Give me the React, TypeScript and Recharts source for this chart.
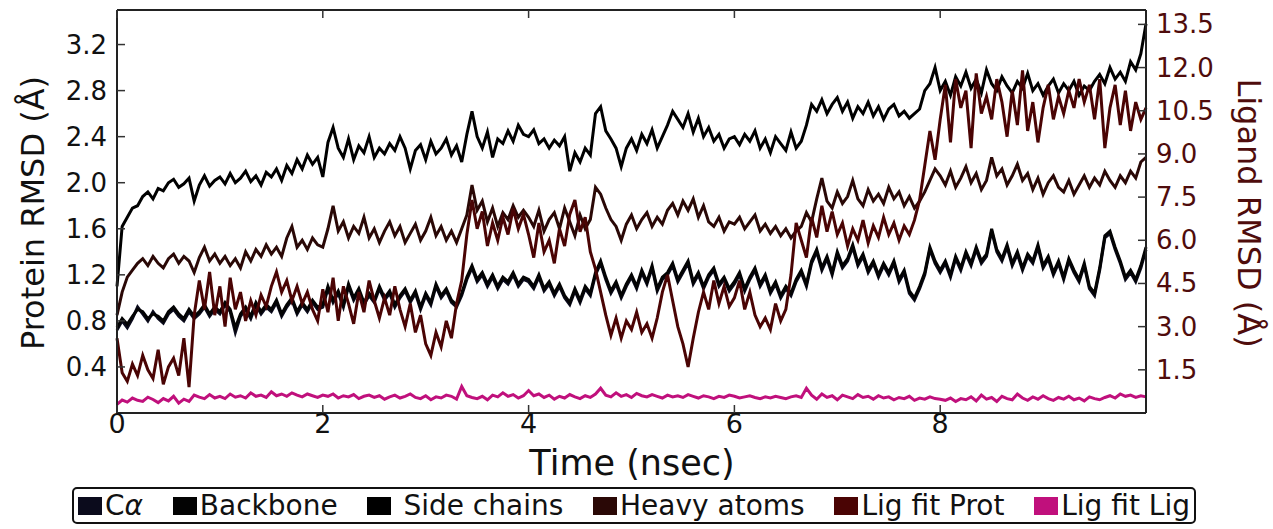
import { LineChart, Line, XAxis, YAxis, ReferenceLine } from "recharts"

// time axis (ns), one frame every 0.05 ns
const TIME = Array.from({ length: 201 }, (_, i) => +(i * 0.05).toFixed(2))

const X_TICKS = [0, 2, 4, 6, 8]
const PROTEIN_TICKS = [0.4, 0.8, 1.2, 1.6, 2.0, 2.4, 2.8, 3.2]
const LIGAND_TICKS = [1.5, 3.0, 4.5, 6.0, 7.5, 9.0, 10.5, 12.0, 13.5]

// protein RMSD (left axis, Å)
const CA = [
  0.72, 0.80, 0.74, 0.82, 0.92, 0.86, 0.80, 0.88, 0.82, 0.78, 0.86, 0.90, 0.84, 0.80, 0.88, 0.82, 0.86, 0.92, 0.84, 0.90,
  0.86, 0.94, 0.88, 0.70, 0.84, 0.90, 0.82, 0.94, 0.86, 0.92, 0.88, 0.96, 0.84, 0.92, 0.98, 0.86, 0.94, 0.88, 0.96, 0.90,
  0.92, 1.08, 0.96, 1.04, 0.92, 1.10, 0.98, 1.06, 0.94, 1.02, 0.96, 1.08, 0.98, 1.04, 0.92, 1.00, 1.06, 0.96, 1.04, 0.90,
  1.02, 0.94, 1.10, 1.00, 1.06, 0.96, 0.92, 1.02, 1.16, 1.26, 1.14, 1.20, 1.10, 1.18, 1.08, 1.16, 1.12, 1.20, 1.10, 1.16,
  1.14, 1.08, 1.18, 1.06, 1.12, 1.02, 1.10, 1.00, 0.94, 1.06, 0.96, 1.08, 1.02, 1.20, 1.30, 1.16, 1.04, 1.12, 1.00, 1.10,
  1.18, 1.08, 1.22, 1.12, 1.26, 1.06, 1.16, 1.20, 1.28, 1.14, 1.22, 1.30, 1.12, 1.20, 1.08, 1.18, 1.24, 1.10, 1.16, 1.06,
  1.12, 1.20, 1.06, 1.16, 1.24, 1.10, 1.18, 1.04, 1.12, 1.00, 1.08, 1.02, 1.14, 1.22, 1.10, 1.30, 1.40, 1.24, 1.34, 1.20,
  1.38, 1.26, 1.32, 1.44, 1.28, 1.36, 1.22, 1.30, 1.18, 1.28, 1.20, 1.30, 1.14, 1.22, 1.04, 0.98, 1.08, 1.20, 1.42, 1.30,
  1.22, 1.30, 1.18, 1.34, 1.24, 1.38, 1.28, 1.42, 1.30, 1.36, 1.58, 1.40, 1.32, 1.44, 1.28, 1.38, 1.24, 1.36, 1.30, 1.44,
  1.26, 1.34, 1.20, 1.30, 1.16, 1.32, 1.22, 1.14, 1.28, 1.08, 1.02, 1.24, 1.52, 1.56, 1.42, 1.30, 1.16, 1.22, 1.14, 1.26,
  1.42,
]

const BACKBONE = [
  0.74, 0.82, 0.77, 0.84, 0.90, 0.88, 0.82, 0.86, 0.84, 0.80, 0.88, 0.92, 0.86, 0.82, 0.90, 0.84, 0.88, 0.94, 0.86, 0.92,
  0.88, 0.96, 0.90, 0.74, 0.86, 0.92, 0.84, 0.96, 0.88, 0.94, 0.90, 0.98, 0.86, 0.94, 1.00, 0.88, 0.96, 0.90, 0.98, 0.92,
  0.94, 1.10, 0.98, 1.06, 0.94, 1.12, 1.00, 1.08, 0.96, 1.04, 0.98, 1.10, 1.00, 1.06, 0.94, 1.02, 1.08, 0.98, 1.06, 0.92,
  1.04, 0.96, 1.12, 1.02, 1.08, 0.98, 0.94, 1.04, 1.18, 1.28, 1.16, 1.22, 1.12, 1.20, 1.10, 1.18, 1.14, 1.22, 1.12, 1.18,
  1.16, 1.10, 1.20, 1.08, 1.14, 1.04, 1.12, 1.02, 0.96, 1.08, 0.98, 1.10, 1.04, 1.22, 1.32, 1.18, 1.06, 1.14, 1.02, 1.12,
  1.20, 1.10, 1.24, 1.14, 1.28, 1.08, 1.18, 1.22, 1.30, 1.16, 1.24, 1.32, 1.14, 1.22, 1.10, 1.20, 1.26, 1.12, 1.18, 1.08,
  1.14, 1.22, 1.08, 1.18, 1.26, 1.12, 1.20, 1.06, 1.14, 1.02, 1.10, 1.04, 1.16, 1.24, 1.12, 1.32, 1.42, 1.26, 1.36, 1.22,
  1.40, 1.28, 1.34, 1.46, 1.30, 1.38, 1.24, 1.32, 1.20, 1.30, 1.22, 1.32, 1.16, 1.24, 1.06, 1.00, 1.10, 1.22, 1.44, 1.32,
  1.24, 1.32, 1.20, 1.36, 1.26, 1.40, 1.30, 1.44, 1.32, 1.38, 1.60, 1.42, 1.34, 1.46, 1.30, 1.40, 1.26, 1.38, 1.32, 1.46,
  1.28, 1.36, 1.22, 1.32, 1.18, 1.34, 1.24, 1.16, 1.30, 1.10, 1.04, 1.26, 1.54, 1.58, 1.44, 1.32, 1.18, 1.24, 1.16, 1.28,
  1.44,
]

const SIDE_CHAINS = [
  1.10, 1.62, 1.70, 1.78, 1.80, 1.88, 1.92, 1.86, 1.95, 1.93, 2.00, 2.03, 1.96, 1.99, 2.04, 1.84, 1.98, 2.06, 1.97, 2.02,
  2.05, 1.99, 2.08, 2.00, 2.04, 2.10, 2.01, 2.06, 1.98, 2.09, 2.05, 2.12, 2.02, 2.15, 2.08, 2.20, 2.12, 2.24, 2.16, 2.22,
  2.05, 2.35, 2.48, 2.30, 2.22, 2.38, 2.20, 2.32, 2.26, 2.40, 2.22, 2.30, 2.25, 2.34, 2.28, 2.40, 2.30, 2.12, 2.28, 2.33,
  2.20, 2.36, 2.25, 2.30, 2.38, 2.24, 2.32, 2.18, 2.42, 2.62, 2.40, 2.30, 2.44, 2.22, 2.38, 2.34, 2.45, 2.36, 2.50, 2.42,
  2.40, 2.46, 2.34, 2.38, 2.30, 2.37, 2.32, 2.40, 2.10, 2.26, 2.18, 2.30, 2.24, 2.60, 2.66, 2.45, 2.38, 2.30, 2.14, 2.30,
  2.38, 2.28, 2.42, 2.34, 2.46, 2.30, 2.40, 2.50, 2.62, 2.55, 2.48, 2.60, 2.44, 2.56, 2.40, 2.48, 2.36, 2.42, 2.30, 2.38,
  2.40, 2.33, 2.42, 2.36, 2.45, 2.30, 2.38, 2.26, 2.40, 2.34, 2.28, 2.44, 2.30, 2.36, 2.50, 2.68, 2.62, 2.72, 2.60, 2.68,
  2.74, 2.62, 2.70, 2.56, 2.66, 2.60, 2.70, 2.58, 2.66, 2.55, 2.64, 2.68, 2.58, 2.62, 2.56, 2.60, 2.64, 2.80, 2.86, 3.00,
  2.80, 2.88, 2.76, 2.92, 2.84, 2.96, 2.82, 2.90, 2.78, 2.98, 2.86, 2.80, 2.92, 2.84, 2.78, 2.88, 2.82, 2.95, 2.80, 2.86,
  2.76, 2.84, 2.90, 2.78, 2.86, 2.80, 2.88, 2.76, 2.84, 2.80, 2.88, 2.94, 2.86, 3.00, 2.90, 2.96, 2.88, 3.05, 2.98, 3.12,
  3.38,
]

const HEAVY_ATOMS = [
  0.85, 1.05, 1.18, 1.24, 1.30, 1.34, 1.28, 1.36, 1.30, 1.26, 1.34, 1.38, 1.30, 1.36, 1.32, 1.22, 1.35, 1.44, 1.32, 1.38,
  1.30, 1.36, 1.28, 1.34, 1.26, 1.40, 1.32, 1.42, 1.36, 1.46, 1.38, 1.44, 1.36, 1.52, 1.62, 1.44, 1.50, 1.42, 1.52, 1.46,
  1.44, 1.60, 1.80, 1.58, 1.66, 1.52, 1.62, 1.56, 1.70, 1.52, 1.60, 1.48, 1.58, 1.66, 1.54, 1.62, 1.48, 1.56, 1.64, 1.50,
  1.58, 1.70, 1.54, 1.62, 1.50, 1.58, 1.48, 1.60, 1.72, 1.98, 1.76, 1.84, 1.66, 1.78, 1.62, 1.74, 1.68, 1.80, 1.70, 1.76,
  1.70, 1.62, 1.76, 1.58, 1.68, 1.74, 1.60, 1.78, 1.66, 1.54, 1.72, 1.60, 1.68, 1.96, 1.90, 1.78, 1.68, 1.62, 1.50, 1.64,
  1.72, 1.60, 1.68, 1.74, 1.62, 1.70, 1.64, 1.76, 1.82, 1.72, 1.84, 1.76, 1.86, 1.70, 1.80, 1.66, 1.62, 1.70, 1.58, 1.66,
  1.64, 1.70, 1.60, 1.66, 1.72, 1.58, 1.64, 1.56, 1.62, 1.54, 1.60, 1.52, 1.58, 1.62, 1.74, 1.66, 1.86, 2.04, 1.84, 1.78,
  1.92, 1.82, 1.88, 2.02, 1.86, 1.80, 1.94, 1.84, 1.90, 1.82, 1.96, 1.86, 1.92, 1.80, 1.88, 1.78, 1.84, 1.92, 2.02, 2.12,
  2.06, 1.98, 2.10, 1.96, 2.04, 2.14, 2.00, 2.08, 1.94, 2.02, 2.22, 2.06, 2.12, 1.98, 2.06, 2.16, 2.02, 2.08, 1.94, 2.04,
  1.90, 2.00, 2.06, 1.96, 1.92, 2.02, 1.90, 1.98, 2.06, 1.96, 2.04, 1.98, 2.10, 2.02, 1.96, 2.06, 2.00, 2.10, 2.04, 2.18,
  2.22,
]

// ligand RMSD (right axis, Å)
const LIG_FIT_PROT = [
  2.60, 1.40, 1.10, 1.70, 1.30, 2.00, 1.50, 1.20, 2.20, 1.00, 1.60, 1.90, 1.30, 2.60, 0.90, 3.40, 4.60, 3.60, 4.90, 3.40,
  4.40, 3.00, 4.70, 3.60, 4.20, 3.20, 3.90, 3.40, 4.10, 3.70, 4.40, 4.90, 4.20, 4.60, 3.90, 4.40, 3.80, 4.20, 3.60, 3.20,
  4.30, 3.50, 4.70, 3.20, 4.40, 3.80, 3.10, 4.20, 3.50, 4.60, 3.90, 3.30, 4.00, 3.40, 4.40, 3.60, 3.00, 3.80, 2.80, 3.40,
  2.40, 2.00, 2.80, 2.30, 3.20, 2.60, 3.80, 4.60, 6.20, 7.40, 6.40, 7.00, 5.80, 6.60, 6.00, 6.80, 6.20, 7.10, 6.40, 6.90,
  6.20, 5.40, 6.60, 5.60, 6.00, 5.20, 6.40, 5.80, 6.90, 7.40, 6.30, 6.80, 5.60, 5.00, 4.20, 3.40, 2.70, 3.30, 2.60, 3.20,
  2.90, 3.50, 2.80, 3.10, 2.60, 3.30, 4.20, 4.80, 3.90, 3.00, 2.40, 1.60, 2.60, 3.50, 4.20, 3.60, 4.60, 3.80, 4.40, 3.70,
  4.00, 4.60, 3.60, 4.20, 3.40, 3.00, 3.30, 2.90, 3.80, 3.20, 3.60, 4.80, 6.60, 6.00, 5.40, 6.80, 6.10, 7.20, 6.30, 7.00,
  6.20, 6.60, 5.80, 6.40, 6.00, 6.70, 5.90, 6.50, 6.10, 6.80, 6.20, 6.60, 6.00, 6.50, 6.20, 6.70, 7.40, 8.60, 9.80, 8.80,
  10.20, 11.40, 9.40, 11.60, 10.60, 11.20, 9.20, 11.80, 10.40, 11.00, 10.20, 11.60, 10.80, 9.60, 11.20, 10.00, 11.90, 9.80, 10.80, 9.40,
  10.60, 11.40, 10.20, 11.00, 10.40, 11.20, 10.60, 11.60, 10.80, 11.40, 10.20, 11.60, 9.20, 10.60, 11.40, 10.00, 11.20, 9.80, 10.80, 10.20,
  10.60,
]

const LIG_FIT_LIG = [
  0.30, 0.45, 0.38, 0.52, 0.44, 0.40, 0.55, 0.47, 0.36, 0.50, 0.42, 0.58, 0.34, 0.48, 0.40, 0.62, 0.55, 0.50, 0.64, 0.52,
  0.58, 0.50, 0.66, 0.55, 0.60, 0.52, 0.70, 0.58, 0.62, 0.54, 0.74, 0.60, 0.66, 0.58, 0.70, 0.62, 0.56, 0.66, 0.60, 0.54,
  0.62, 0.58, 0.66, 0.52, 0.60, 0.56, 0.64, 0.50, 0.58, 0.62, 0.54, 0.60, 0.48, 0.56, 0.62, 0.52, 0.58, 0.66, 0.54, 0.50,
  0.60, 0.46, 0.56, 0.52, 0.62, 0.58, 0.48, 0.92, 0.60, 0.54, 0.50, 0.58, 0.46, 0.62, 0.56, 0.70, 0.58, 0.64, 0.52, 0.60,
  0.78, 0.60, 0.66, 0.54, 0.62, 0.48, 0.58, 0.52, 0.64, 0.56, 0.50, 0.60, 0.54, 0.66, 0.86, 0.62, 0.56, 0.70, 0.58, 0.64,
  0.54, 0.68, 0.60, 0.56, 0.64, 0.58, 0.52, 0.62, 0.56, 0.60, 0.54, 0.64, 0.58, 0.52, 0.60, 0.56, 0.50, 0.58, 0.54, 0.62,
  0.58, 0.52, 0.56, 0.60, 0.54, 0.50, 0.56, 0.52, 0.58, 0.54, 0.50, 0.56, 0.60, 0.54, 0.86, 0.62, 0.48, 0.66, 0.54, 0.60,
  0.46, 0.62, 0.56, 0.50, 0.64, 0.54, 0.58, 0.48, 0.60, 0.52, 0.56, 0.46, 0.54, 0.50, 0.58, 0.44, 0.52, 0.48, 0.56, 0.50,
  0.48, 0.44, 0.52, 0.40, 0.50, 0.46, 0.56, 0.42, 0.62, 0.48, 0.54, 0.40, 0.58, 0.50, 0.46, 0.66, 0.52, 0.44, 0.56, 0.48,
  0.60, 0.50, 0.44, 0.54, 0.48, 0.58, 0.46, 0.52, 0.42, 0.56, 0.50, 0.46, 0.54, 0.60, 0.52, 0.66, 0.58, 0.62, 0.54, 0.60,
  0.56,
]

const SERIES = [
  { key: "ca", name: "C\u03b1", color: "#0b0b1c", axis: "left" },
  { key: "bb", name: "Backbone", color: "#030303", axis: "left" },
  { key: "sc", name: " Side chains", color: "#000000", axis: "left" },
  { key: "ha", name: "Heavy atoms", color: "#2a0806", axis: "left" },
  { key: "lfp", name: "Lig fit Prot", color: "#4a0404", axis: "right" },
  { key: "lfl", name: "Lig fit Lig", color: "#c0107c", axis: "right" },
]

const rows = TIME.map((t, i) => ({
  t,
  ca: CA[i],
  bb: BACKBONE[i],
  sc: SIDE_CHAINS[i],
  ha: HEAVY_ATOMS[i],
  lfp: LIG_FIT_PROT[i],
  lfl: LIG_FIT_LIG[i],
}))

const FONT = "'DejaVu Sans', sans-serif"
const MAROON = "#4f0c0c"
const PLOT_TOP = 10
const TICK_LEN = 8

function LeftTick({ x, y, payload }: any) {
  return (
    <g>
      <line x1={x + 10} x2={x + 10 + TICK_LEN} y1={y} y2={y} stroke="#333" strokeWidth={1.5} />
      <text x={x} y={y} textAnchor="end" dominantBaseline="central" fontSize={26} fontFamily={FONT} fill="#111">
        {payload.value.toFixed(1)}
      </text>
    </g>
  )
}

function RightTick({ x, y, payload }: any) {
  return (
    <g>
      <line x1={x - 10} x2={x - 10 - TICK_LEN} y1={y} y2={y} stroke="#333" strokeWidth={1.5} />
      <text x={x} y={y} textAnchor="start" dominantBaseline="central" fontSize={26} fontFamily={FONT} fill={MAROON}>
        {payload.value.toFixed(1)}
      </text>
    </g>
  )
}

function BottomTick({ x, y, payload }: any) {
  return (
    <g>
      <line x1={x} x2={x} y1={y - 8} y2={y - 8 - TICK_LEN} stroke="#333" strokeWidth={1.5} />
      <line x1={x} x2={x} y1={PLOT_TOP} y2={PLOT_TOP + TICK_LEN} stroke="#333" strokeWidth={1.5} />
      <text x={x} y={y + 12} textAnchor="middle" fontSize={27} fontFamily={FONT} fill="#111">
        {payload.value}
      </text>
    </g>
  )
}

export default function App() {
  return (
    <div style={{ position: "absolute", left: 0, top: 0, width: 1273, height: 529, background: "#fff", fontFamily: FONT }}>
      <LineChart width={1273} height={529} data={rows} margin={{ top: PLOT_TOP, right: 67, bottom: 86, left: 57 }}>
        <XAxis
          dataKey="t"
          type="number"
          domain={[0, 10]}
          ticks={X_TICKS}
          height={30}
          tickSize={0}
          tickMargin={8}
          tickLine={false}
          axisLine={{ stroke: "#222", strokeWidth: 2 }}
          tick={<BottomTick />}
        />
        <YAxis
          yAxisId="left"
          orientation="left"
          type="number"
          domain={[0, 3.5]}
          ticks={PROTEIN_TICKS}
          width={60}
          tickSize={0}
          tickMargin={10}
          tickLine={false}
          axisLine={{ stroke: "#222", strokeWidth: 2 }}
          tick={<LeftTick />}
        />
        <YAxis
          yAxisId="right"
          orientation="right"
          type="number"
          domain={[0, 14]}
          ticks={LIGAND_TICKS}
          width={60}
          tickSize={0}
          tickMargin={10}
          tickLine={false}
          axisLine={{ stroke: "#222", strokeWidth: 2 }}
          tick={<RightTick />}
        />
        <ReferenceLine yAxisId="left" y={3.5} stroke="#222" strokeWidth={2} ifOverflow="visible" />
        {SERIES.map((s) => (
          <Line
            key={s.key}
            yAxisId={s.axis}
            dataKey={s.key}
            name={s.name}
            type="linear"
            stroke={s.color}
            strokeWidth={3}
            strokeLinejoin="miter"
            dot={false}
            activeDot={false}
            isAnimationActive={false}
          />
        ))}
      </LineChart>

      <div
        style={{
          position: "absolute",
          left: 33,
          top: 213,
          transform: "translate(-50%, -50%) rotate(-90deg)",
          fontSize: 32,
          whiteSpace: "nowrap",
          color: "#111",
        }}
      >
        Protein RMSD (Å)
      </div>
      <div
        style={{
          position: "absolute",
          left: 1249,
          top: 213,
          transform: "translate(-50%, -50%) rotate(90deg)",
          fontSize: 32,
          whiteSpace: "nowrap",
          color: MAROON,
        }}
      >
        Ligand RMSD (Å)
      </div>
      <div
        style={{
          position: "absolute",
          left: 632,
          top: 463,
          transform: "translate(-50%, -50%)",
          fontSize: 35,
          whiteSpace: "nowrap",
          color: "#111",
        }}
      >
        Time (nsec)
      </div>

      <div
        style={{
          position: "absolute",
          left: 72,
          top: 487,
          width: 1124,
          height: 37,
          boxSizing: "border-box",
          border: "2px solid #111",
          borderRadius: 5,
          display: "flex",
          alignItems: "center",
          justifyContent: "space-between",
          padding: "0 4px",
          fontSize: 28,
          color: "#111",
          whiteSpace: "pre",
        }}
      >
        {SERIES.map((s) => (
          <div key={s.key} style={{ display: "flex", alignItems: "center" }}>
            <span style={{ display: "inline-block", width: 24, height: 18, background: s.color, marginRight: 3 }} />
            <span style={{ lineHeight: "30px" }}>
              {s.key === "ca" ? (
                <>
                  C<i>α</i>
                </>
              ) : (
                s.name
              )}
            </span>
          </div>
        ))}
      </div>
    </div>
  )
}
